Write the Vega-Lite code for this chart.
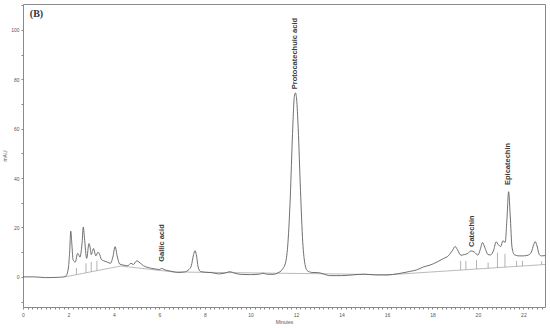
{
  "$schema": "https://vega.github.io/schema/vega-lite/v6.json",
  "width": 522,
  "height": 303,
  "autosize": {"type": "none"},
  "padding": {"left": 23, "top": 4, "right": 5, "bottom": 21},
  "background": "white",
  "config": {
    "view": {"stroke": "#8a8a8a", "strokeWidth": 1},
    "axis": {"grid": false, "domain": false, "labelFont": "Liberation Sans", "titleFont": "Liberation Sans", "labelFontSize": 5, "titleFontSize": 5, "labelColor": "#555", "titleColor": "#555", "tickColor": "#888", "titleFontWeight": "normal"}
  },
  "datasets": {
    "trace": [
      {"t": 0, "v": 0}, {"t": 0.5, "v": 0}, {"t": 1.0, "v": -0.3}, {"t": 1.5, "v": -0.2}, {"t": 1.8, "v": 0},
      {"t": 1.9, "v": 0.5}, {"t": 2.0, "v": 4}, {"t": 2.05, "v": 10}, {"t": 2.1, "v": 18.5}, {"t": 2.15, "v": 13},
      {"t": 2.2, "v": 7}, {"t": 2.3, "v": 6}, {"t": 2.4, "v": 9.5}, {"t": 2.45, "v": 9}, {"t": 2.5, "v": 8},
      {"t": 2.6, "v": 14}, {"t": 2.65, "v": 20.2}, {"t": 2.7, "v": 16}, {"t": 2.8, "v": 7.5}, {"t": 2.9, "v": 13.5},
      {"t": 2.95, "v": 12}, {"t": 3.0, "v": 9}, {"t": 3.1, "v": 11.5}, {"t": 3.15, "v": 10}, {"t": 3.2, "v": 8.5},
      {"t": 3.3, "v": 10}, {"t": 3.35, "v": 9.5}, {"t": 3.45, "v": 7}, {"t": 3.55, "v": 6.5}, {"t": 3.7, "v": 6},
      {"t": 3.85, "v": 5.5}, {"t": 3.95, "v": 8}, {"t": 4.05, "v": 12.2}, {"t": 4.15, "v": 8}, {"t": 4.25, "v": 5.2},
      {"t": 4.4, "v": 4.8}, {"t": 4.6, "v": 4.5}, {"t": 4.75, "v": 5.5}, {"t": 4.85, "v": 5}, {"t": 5.0, "v": 6.5},
      {"t": 5.1, "v": 6}, {"t": 5.3, "v": 4.5}, {"t": 5.5, "v": 3.8}, {"t": 5.8, "v": 3.2}, {"t": 6.0, "v": 3.0},
      {"t": 6.1, "v": 3.4}, {"t": 6.25, "v": 2.8}, {"t": 6.5, "v": 2.3}, {"t": 6.8, "v": 1.8}, {"t": 7.1, "v": 2.0},
      {"t": 7.3, "v": 3.0}, {"t": 7.4, "v": 4.5}, {"t": 7.5, "v": 9}, {"t": 7.56, "v": 10.6}, {"t": 7.62, "v": 9},
      {"t": 7.7, "v": 4}, {"t": 7.8, "v": 2.2}, {"t": 8.0, "v": 1.9}, {"t": 8.3, "v": 1.7}, {"t": 8.6, "v": 1.2},
      {"t": 8.9, "v": 1.6}, {"t": 9.1, "v": 2.1}, {"t": 9.3, "v": 1.5}, {"t": 9.6, "v": 1.0}, {"t": 10.0, "v": 0.9},
      {"t": 10.4, "v": 1.1}, {"t": 10.55, "v": 1.5}, {"t": 10.7, "v": 1.1}, {"t": 11.0, "v": 1.0}, {"t": 11.2, "v": 1.6},
      {"t": 11.4, "v": 3.0}, {"t": 11.55, "v": 6}, {"t": 11.65, "v": 14}, {"t": 11.75, "v": 32}, {"t": 11.85, "v": 58},
      {"t": 11.93, "v": 73}, {"t": 11.98, "v": 74.5}, {"t": 12.03, "v": 72}, {"t": 12.1, "v": 60}, {"t": 12.2, "v": 35},
      {"t": 12.3, "v": 14}, {"t": 12.4, "v": 5}, {"t": 12.5, "v": 2.5}, {"t": 12.7, "v": 1.8}, {"t": 13.0, "v": 1.7},
      {"t": 13.2, "v": 1.2}, {"t": 13.5, "v": 0.5}, {"t": 14.0, "v": 0.5}, {"t": 14.5, "v": 0.8}, {"t": 15.0, "v": 1.1},
      {"t": 15.5, "v": 0.8}, {"t": 16.0, "v": 0.8}, {"t": 16.5, "v": 1.3}, {"t": 17.0, "v": 2.2}, {"t": 17.3, "v": 2.8},
      {"t": 17.6, "v": 4.0}, {"t": 17.9, "v": 4.8}, {"t": 18.2, "v": 6.0}, {"t": 18.5, "v": 7.5}, {"t": 18.7, "v": 8.5},
      {"t": 18.9, "v": 11}, {"t": 19.0, "v": 12.3}, {"t": 19.1, "v": 11}, {"t": 19.25, "v": 8.8}, {"t": 19.4, "v": 9.0},
      {"t": 19.55, "v": 9.5}, {"t": 19.7, "v": 10.5}, {"t": 19.85, "v": 10}, {"t": 20.0, "v": 8.8}, {"t": 20.1, "v": 11},
      {"t": 20.2, "v": 13.9}, {"t": 20.3, "v": 12}, {"t": 20.45, "v": 9}, {"t": 20.55, "v": 8.9}, {"t": 20.7, "v": 11},
      {"t": 20.8, "v": 14.2}, {"t": 20.9, "v": 13}, {"t": 21.0, "v": 12.3}, {"t": 21.1, "v": 14.6}, {"t": 21.2, "v": 14},
      {"t": 21.28, "v": 24}, {"t": 21.35, "v": 34.5}, {"t": 21.42, "v": 25}, {"t": 21.5, "v": 12}, {"t": 21.6, "v": 9},
      {"t": 21.8, "v": 8.5}, {"t": 22.0, "v": 8.5}, {"t": 22.2, "v": 8.8}, {"t": 22.35, "v": 10}, {"t": 22.45, "v": 13},
      {"t": 22.52, "v": 14.3}, {"t": 22.6, "v": 12.5}, {"t": 22.7, "v": 9}, {"t": 22.8, "v": 8.5}, {"t": 22.95, "v": 8.6}
    ],
    "baseline": [
      {"t": 1.85, "v": 0}, {"t": 4.3, "v": 4.4}, {"t": 6.6, "v": 2.0}, {"t": 13.7, "v": 1.2}, {"t": 16.0, "v": 0.8}, {"t": 22.95, "v": 5.0}
    ],
    "marks": [
      {"t": 2.35, "v0": 0.9, "v1": 3.6},
      {"t": 2.77, "v0": 1.65, "v1": 5.5},
      {"t": 3.0, "v0": 2.07, "v1": 6.0},
      {"t": 3.25, "v0": 2.5, "v1": 6.5},
      {"t": 19.24, "v0": 2.76, "v1": 6.5},
      {"t": 19.47, "v0": 2.9, "v1": 6.5},
      {"t": 19.94, "v0": 3.2, "v1": 6.8},
      {"t": 20.45, "v0": 3.5, "v1": 5.8},
      {"t": 20.86, "v0": 3.7, "v1": 9.8},
      {"t": 21.19, "v0": 3.9, "v1": 9.3},
      {"t": 21.7, "v0": 4.2, "v1": 6.5},
      {"t": 21.96, "v0": 4.4, "v1": 6.5},
      {"t": 22.8, "v0": 4.9, "v1": 6.3}
    ],
    "labels": [
      {"t": 6.11, "v": 6.1, "label": "Gallic acid"},
      {"t": 11.96, "v": 76, "label": "Protocatechuic acid"},
      {"t": 19.74, "v": 12.1, "label": "Catechin"},
      {"t": 21.32, "v": 37.2, "label": "Epicatechin"}
    ],
    "panel": [
      {"t": 0.3, "v": 106.5, "label": "(B)"}
    ]
  },
  "layer": [
    {
      "data": {"name": "baseline"},
      "mark": {"type": "line", "color": "#a8a8a8", "strokeWidth": 0.8},
      "encoding": {
        "x": {"field": "t", "type": "quantitative", "scale": {"domain": [0, 22.95], "nice": false, "zero": false},
          "axis": {"title": "Minutes", "tickCount": 115, "tickSize": 2, "labelPadding": 3, "titlePadding": 2,
            "labelExpr": "datum.value % 2 === 0 ? format(datum.value, 'd') : ''", "labelFlush": false, "labelOverlap": false}},
        "y": {"field": "v", "type": "quantitative", "scale": {"domain": [-12.2, 110.5], "nice": false, "zero": false},
          "axis": {"title": "mAU", "tickCount": 12, "tickSize": 2, "labelPadding": 2, "titlePadding": 3,
            "labelExpr": "datum.value % 20 === 0 ? format(datum.value, 'd') : ''", "labelOverlap": false, "labelFlush": false}}
      }
    },
    {
      "data": {"name": "marks"},
      "mark": {"type": "rule", "color": "#a0a0a0", "strokeWidth": 0.8},
      "encoding": {
        "x": {"field": "t", "type": "quantitative"},
        "y": {"field": "v0", "type": "quantitative"},
        "y2": {"field": "v1"}
      }
    },
    {
      "data": {"name": "trace"},
      "mark": {"type": "line", "color": "#606060", "strokeWidth": 0.9, "interpolate": "monotone"},
      "encoding": {
        "x": {"field": "t", "type": "quantitative"},
        "y": {"field": "v", "type": "quantitative"}
      }
    },
    {
      "data": {"name": "labels"},
      "mark": {"type": "text", "angle": 270, "align": "left", "baseline": "middle", "font": "Liberation Sans", "fontSize": 7.5, "fontWeight": "bold", "color": "#3a3a3a"},
      "encoding": {
        "x": {"field": "t", "type": "quantitative"},
        "y": {"field": "v", "type": "quantitative"},
        "text": {"field": "label"}
      }
    },
    {
      "data": {"name": "panel"},
      "mark": {"type": "text", "align": "left", "baseline": "middle", "font": "Liberation Serif", "fontSize": 10, "fontWeight": "bold", "color": "#333"},
      "encoding": {
        "x": {"field": "t", "type": "quantitative"},
        "y": {"field": "v", "type": "quantitative"},
        "text": {"field": "label"}
      }
    }
  ]
}
